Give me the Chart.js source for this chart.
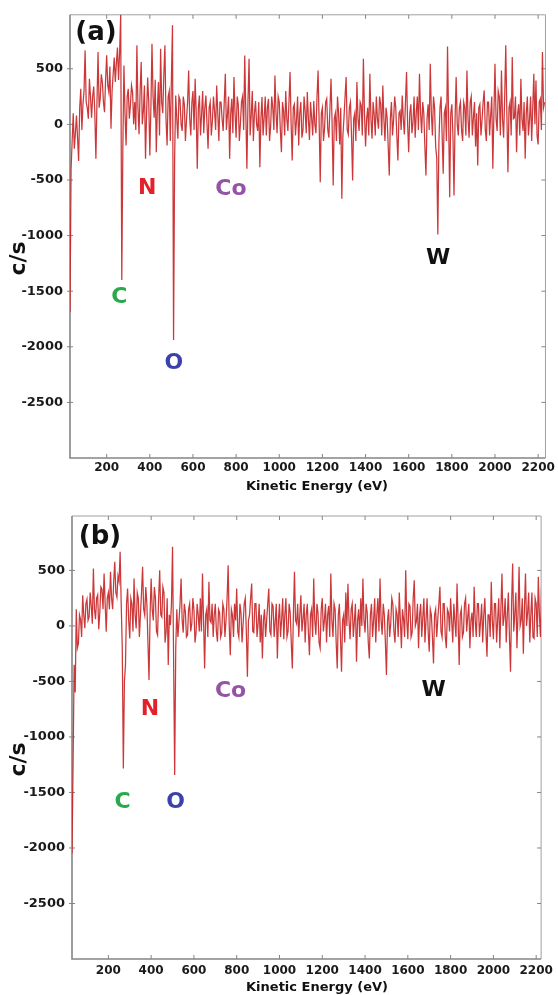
<!DOCTYPE html>
<html lang="en">
  <head>
    <meta charset="utf-8" />
    <title>AES spectra (a) (b)</title>
    <style>
      html, body { margin: 0; padding: 0; background: #fff; overflow: hidden; }
      .box { position: absolute; left: 0; width: 558px; }
      #boxA { top: 0; height: 500px; }
      #boxB { top: 500px; height: 495px; }
    </style>
  </head>
  <body>
    <div class="box" id="boxA"><canvas id="chartA"></canvas></div>
    <div class="box" id="boxB"><canvas id="chartB"></canvas></div>

    <script src="https://cdn.jsdelivr.net/npm/chart.js/dist/chart.umd.min.js"></script>
    <script>
      // sampling grid of the spectra (eV)
      const energyStart = 30;
      const energyStep = 5;

      // panel (a), c/s, one row = 100 eV
      const countsA = [
        -1690, -400, -150, 100, -220, -80, 80, -120, -330, 150, 320, -50, 180, 300, 665, 200, 150, 50, 410, 250,   // 30
        60, 250, 340, 100, -310, 200, 650, 150, 230, 450, 380, 200, 110, 400, 620, 350, 290, 520, -40, 300,        // 130
        450, 600, 380, 550, 690, 400, 650, 990, -1400, -200, 530, 100, -190, 250, 320, 50, 170, 350, 290, 0,       // 230
        200, -50, 710, 150, -90, 300, 560, 0, 120, 350, -310, 100, 420, 200, -280, 150, 725, 250, 60, 400,         // 330
        -250, 150, 380, -100, 680, 200, 100, 450, 710, 50, -190, 250, 300, -150, 400, 890, -1940, -300, 260, 50,   // 430
        -130, 250, 220, 0, -60, 250, 180, -150, 40, 200, 485, 50, -100, 200, 300, -50, 410, 100, -400, 150,        // 530
        260, -100, 90, 300, -80, 150, 260, 0, -220, 150, 200, -100, 30, 250, 120, -50, 350, 100, -150, 200,        // 630
        200, 50, -60, 200, 455, -50, 90, 250, -310, 100, 230, -80, 425, 100, -120, 250, 180, -150, 10, 200,        // 730
        250, -50, 620, 100, -400, 200, 590, -100, 80, 300, -150, 100, 210, 0, -60, 200, -385, 50, 245, -100,       // 830
        60, 250, -100, 150, 230, -150, -20, 250, 150, -50, 440, 100, -80, 250, 200, -50, -250, 200, 120, -100,     // 930
        300, 50, -60, 200, 470, 0, -325, 150, 180, -100, 40, 250, -190, 100, 200, -120, -50, 250, 120, -80,        // 1030
        290, 50, -140, 200, 60, -100, 210, 0, -80, 250, 485, 0, -520, 100, 150, -150, -40, 200, 230, -50,          // 1130
        -120, 150, 410, 0, -550, 50, 100, -150, 250, 100, -180, 150, -670, -100, 60, 250, 425, -50, -90, 150,      // 1230
        200, -100, -505, 50, 100, -150, 380, 50, -60, 200, 170, -100, 590, 100, -200, 50, 150, -100, 455, 50,      // 1330
        -130, 200, 90, -100, 250, 50, -40, 250, 180, -100, 350, 50, -150, 150, 60, -200, -460, 50, 200, -100,      // 1430
        40, 250, 150, -100, -325, 100, 120, -50, 260, 50, -90, 200, 470, 0, -250, 100, 180, -80, 20, 250,          // 1530
        -120, 100, 250, -50, 455, 100, -80, 200, 100, -200, -460, 50, 180, -50, 545, 100, -100, 250, 150, -200,    // 1630
        -300, -990, -160, 150, 250, -100, -445, 100, 150, -150, 700, 50, -655, 100, 180, -100, -640, 50, 425, 0,   // 1730
        -100, 150, 200, -50, -150, 200, 150, -100, 485, 50, -120, 200, 250, -100, 60, 200, -200, 100, -370, 150,   // 1830
        180, -100, 40, 200, 305, -50, -150, 200, 200, -100, 80, 250, -400, 100, 545, 50, -60, 300, 250, -100,      // 1930
        485, 50, -120, 250, 710, 100, -430, 150, 200, -100, 605, 50, 60, 250, -250, 100, 180, -100, 410, 50,       // 2030
        -60, 200, -310, 100, 250, -100, 40, 250, -150, 150, 455, 0, 395, -100, -180, 200, 230, -50, 650, 150, 200  // 2130
      ];

      // panel (b), c/s
      const countsB = [
        -2050, -1250, -350, -600, 150, -200, -160, 100, 60, -100, 277, 100, -20, 200, 240, 50, 80, 300, 180, 20,  // 30
        517, 150, 60, 250, 280, -30, 120, 350, 330, 150, 472, 200, -53, 250, 300, 150, 487, 250, 150, 400,         // 130
        577, 300, 260, 450, 400, 667, 200, -200, -1285, -500, -353, 200, 337, 50, -113, 250, 200, -50, 427, 100,   // 230
        -23, 300, 250, -100, 100, 300, 532, 150, 97, 350, 200, -150, -488, 100, 427, 150, 50, 350, 250, -50,       // 330
        -83, 250, 502, 100, 80, 350, 300, -150, -50, 250, -353, 100, 7, 200, 712, -300, -1343, -200, 150, -100,    // 430
        37, 200, 427, 50, -60, 200, 127, -100, -83, 150, 200, -50, 20, 250, 150, -150, -60, 200, 100, -50,         // 530
        250, -50, 472, 50, -383, 100, 150, -100, 397, 50, 30, 200, -100, 100, 200, -50, -143, 150, 120, -100,      // 630
        -60, 200, 150, -100, 50, 250, 547, 0, -263, 150, 100, -100, 200, 50, 337, -50, -100, 200, 120, -150,       // 730
        20, 200, 250, -50, -458, 50, 100, 250, 382, -50, -60, 200, 200, -100, 20, 200, -150, 100, -293, 50,        // 830
        150, -100, 50, 200, 337, -50, -80, 200, 180, -100, 40, 200, -293, 50, 200, -100, 60, 250, -120, 100,       // 930
        250, -100, -50, 200, 120, -150, -383, 100, 487, 50, 20, 200, -100, 100, 277, -50, 60, 200, -150, 100,      // 1030
        200, -50, -263, 100, 150, -100, 427, 50, -80, 200, 120, -150, -200, 150, 250, -50, 50, 200, -150, 100,     // 1130
        180, -100, 472, 50, -100, 200, 150, -150, -383, 100, 200, -100, -413, 50, 100, -150, 300, 0, 380, 50,      // 1230
        -120, 150, 200, -100, 40, 200, -323, 50, 150, -100, 250, 0, 427, 50, -60, 200, 120, -150, -293, 100,       // 1330
        200, -100, 50, 250, -150, 100, 250, -50, 427, 50, -80, 200, 100, -150, -443, 50, 150, -100, 20, 250,       // 1430
        200, -50, -150, 150, 100, -100, 300, 50, -200, 150, 60, -100, 502, 50, -120, 200, 180, -100, -60, 250,     // 1530
        412, 0, 40, 200, -200, 100, 200, -100, 80, 250, -150, 50, 250, -50, -233, 150, 100, -100, -338, 100,       // 1630
        150, -100, 60, 200, 352, -50, -100, 200, 200, -100, -200, 150, 120, -50, 250, 50, -150, 200, 40, -100,     // 1730
        382, 50, -353, 100, 150, -100, -60, 200, 250, -50, 80, 200, -200, 50, 120, -100, 352, 50, -100, 200,       // 1830
        200, -100, 40, 200, -150, 100, 250, -50, -278, 100, 100, -100, 397, 50, -120, 200, 200, -150, 60, 250,     // 1930
        -200, 150, 472, 0, 80, 250, -150, 100, 300, -100, -413, 200, 562, -50, 100, 300, -200, 100, 532, 0,        // 2030
        50, 250, -250, 150, 472, 0, 120, 300, -150, 100, 300, -100, -113, 250, 200, -100, 442, 100, -100, 350, 300 // 2130
      ];

      const xTicks = [200, 400, 600, 800, 1000, 1200, 1400, 1600, 1800, 2000, 2200];
      const yTicks = [-2500, -2000, -1500, -1000, -500, 0, 500];

      // element labels: name, colour, [energy, c/s] where they sit
      const peakNames = ["N", "Co", "C", "O", "W"];
      const peakColors = ["#e3212b", "#9553a6", "#2aa94c", "#3c41ae", "#111111"];
      const peakSpotA = [[388, -555], [776, -559], [259, -1534], [511, -2129], [1737, -1181]];
      const peakSpotB = [[394, -730], [771, -572], [267, -1568], [514, -1572], [1721, -563]];

      const toPoints = (arr) =>
        arr.map((v, i) => ({ x: energyStart + i * energyStep, y: v }));

      // axes frame with inward ticks, drawn under the trace
      const framePlugin = {
        id: "frame",
        beforeDatasetsDraw(chart) {
          const { ctx, chartArea: a, scales } = chart;
          ctx.save();
          ctx.strokeStyle = "#a0a0a0";
          ctx.lineWidth = 1;
          ctx.beginPath();
          ctx.moveTo(a.left, a.top);
          ctx.lineTo(a.right, a.top);
          ctx.lineTo(a.right, a.bottom);
          ctx.stroke();

          ctx.strokeStyle = "#858585";
          ctx.lineWidth = 1.6;
          ctx.beginPath();
          ctx.moveTo(a.left, a.top);
          ctx.lineTo(a.left, a.bottom);
          ctx.lineTo(a.right, a.bottom);
          ctx.stroke();

          ctx.lineWidth = 1;
          ctx.beginPath();
          xTicks.forEach((v) => {
            const px = scales.x.getPixelForValue(v);
            ctx.moveTo(px, a.bottom);
            ctx.lineTo(px, a.bottom - 4);
            ctx.moveTo(px, a.top);
            ctx.lineTo(px, a.top + 4);
          });
          yTicks.forEach((v) => {
            const py = scales.y.getPixelForValue(v);
            ctx.moveTo(a.left - 3, py);
            ctx.lineTo(a.left + 3, py);
            ctx.moveTo(a.right, py);
            ctx.lineTo(a.right - 4, py);
          });
          ctx.stroke();
          ctx.restore();
        },
        afterDraw(chart, args, opts) {
          const { ctx, chartArea: a, scales } = chart;
          ctx.save();
          ctx.fillStyle = "#111";
          ctx.textAlign = "center";
          ctx.textBaseline = "middle";

          // panel tag
          ctx.font = "bold 26px 'DejaVu Sans'";
          ctx.fillText(opts.tag, a.left + opts.tagDx, a.top + opts.tagDy);

          // axis titles
          ctx.font = "bold 13px 'DejaVu Sans'";
          ctx.fillText("Kinetic Energy (eV)", 317, a.bottom + 28.5);

          ctx.save();
          ctx.translate(19, (a.top + a.bottom) / 2 + 22);
          ctx.rotate(-Math.PI / 2);
          ctx.font = "bold 22px 'DejaVu Sans'";
          ctx.fillText("c/s", 0, 0);
          ctx.restore();

          // element labels
          ctx.font = "bold 22px 'DejaVu Sans'";
          ctx.textBaseline = "alphabetic";
          peakNames.forEach((name, i) => {
            const [e, c] = opts.spots[i];
            ctx.fillStyle = peakColors[i];
            ctx.fillText(name, scales.x.getPixelForValue(e), scales.y.getPixelForValue(c) + 8);
          });
          ctx.restore();
        },
      };

      function makeChart(id, counts, o) {
        return new Chart(document.getElementById(id), {
          type: "line",
          data: {
            datasets: [
              {
                data: toPoints(counts),
                borderColor: "rgba(198, 34, 36, 0.9)",
                borderWidth: 1.25,
                pointRadius: 0,
                tension: 0,
              },
            ],
          },
          options: {
            responsive: true,
            maintainAspectRatio: false,
            devicePixelRatio: 1,
            animation: false,
            events: [],
            layout: { padding: { top: o.top, right: o.right, left: 0, bottom: 0 } },
            scales: {
              x: {
                type: "linear",
                min: o.xMin,
                max: o.xMax,
                grid: { display: false, drawTicks: false },
                border: { display: false },
                afterBuildTicks: (s) => { s.ticks = xTicks.map((v) => ({ value: v })); },
                afterFit: (s) => { s.height = o.xHeight; },
                ticks: {
                  padding: o.xPad,
                  autoSkip: false,
                  maxRotation: 0,
                  color: "#1a1a1a",
                  font: { family: "DejaVu Sans", size: 12, weight: "bold" },
                  callback: (v) => String(v),
                },
              },
              y: {
                min: -3000,
                max: o.yMax,
                grid: { display: false, drawTicks: false },
                border: { display: false },
                afterBuildTicks: (s) => { s.ticks = yTicks.map((v) => ({ value: v })); },
                afterFit: (s) => { s.width = o.yWidth; },
                ticks: {
                  padding: 7,
                  color: "#1a1a1a",
                  font: { family: "DejaVu Sans", size: 13, weight: "bold" },
                  callback: (v) => String(v),
                },
              },
            },
            plugins: {
              legend: { display: false },
              tooltip: { enabled: false },
              frame: { tag: o.tag, tagDx: o.tagDx, tagDy: o.tagDy, spots: o.spots },
            },
          },
          plugins: [framePlugin],
        });
      }

      makeChart("chartA", countsA, {
        top: 13, right: 11, xHeight: 42, yWidth: 70, xPad: 3,
        xMin: 30, xMax: 2234, yMax: 985,
        tag: "(a)", tagDx: 26, tagDy: 18, spots: peakSpotA,
      });

      makeChart("chartB", countsB, {
        top: 16, right: 11, xHeight: 36, yWidth: 72, xPad: 5,
        xMin: 30, xMax: 2223, yMax: 990,
        tag: "(b)", tagDx: 28, tagDy: 21, spots: peakSpotB,
      });
    </script>
  </body>
</html>
